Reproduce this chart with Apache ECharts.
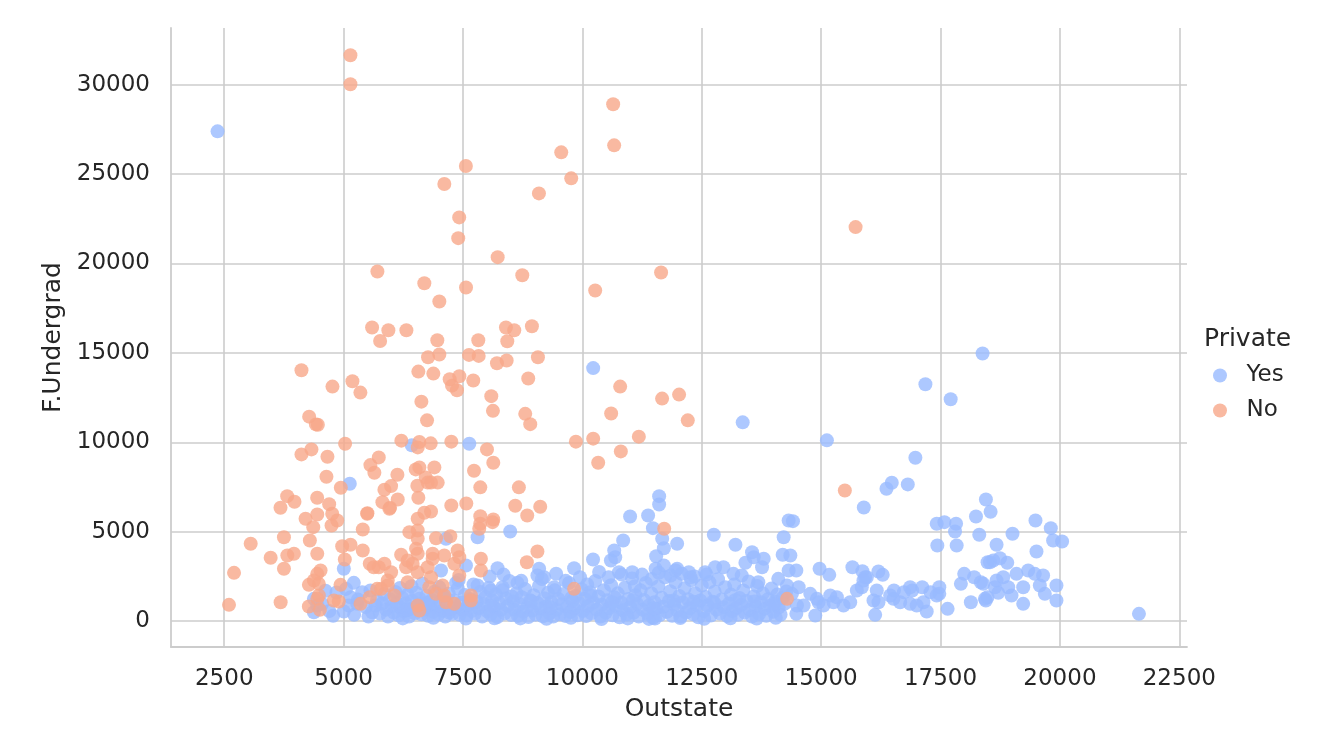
<!DOCTYPE html>
<html>
<head>
<meta charset="utf-8">
<script src="https://cdn.jsdelivr.net/npm/echarts@6.0.0/dist/echarts.min.js"></script>
<style>
  html, body { margin: 0; padding: 0; background: #ffffff; }
  #chart { width: 1318px; height: 750px; }
</style>
</head>
<body>
<div id="chart"></div>
<script>
// tick labels
var xTicks = [2500, 5000, 7500, 10000, 12500, 15000, 17500, 20000, 22500];
var yTicks = [0, 5000, 10000, 15000, 20000, 25000, 30000];

// Private = Yes : [Outstate, F.Undergrad]
var yesPoints = [
  [2360, 27394], [10226, 14149], [13357, 11116], [18380, 14963], [17183, 13244], [17712, 12404],
  [15120, 10108], [16973, 9139], [16479, 7739], [16368, 7403], [16814, 7644], [15893, 6356],
  [7632, 9923], [5129, 7683], [6427, 9828], [11607, 6989], [11607, 6524], [10999, 5852],
  [11376, 5908], [18450, 6804], [18548, 6115],
  [4377, 1243], [4377, 493], [4552, 963], [4448, 868], [5004, 2923], [5213, 2139], [5144, 1333],
  [5108, 868], [5004, 532], [5284, 963], [5389, 1613], [5562, 1708], [5597, 493], [5666, 868],
  [4620, 1700], [4700, 560], [4780, 300], [4850, 1600], [5050, 1800], [5220, 350], [5300, 1200],
  [5460, 780], [5520, 250],
  [7144, 4603], [7805, 4693], [8488, 5012], [7040, 2828], [7562, 3108], [7353, 2139], [7805, 1988],
  [8223, 2957], [9094, 2923], [9199, 2453], [9058, 2548], [9408, 1893], [9826, 2957], [8641, 2139],
  [8327, 1893], [8084, 1708],
  [11477, 5197], [11671, 4603], [11706, 4077], [11984, 4323], [10854, 4508], [10666, 3948],
  [10687, 3573], [10597, 3388], [10223, 3444], [11545, 3629], [11532, 2923], [11706, 3108],
  [11984, 2923], [10766, 2733], [11044, 2733], [12752, 4827], [13205, 4267], [13553, 3853],
  [13588, 3573], [13797, 3483], [13762, 3013], [13414, 3259], [14215, 4693], [14194, 3707],
  [14319, 5628], [12570, 2733], [12779, 3013], [12953, 3013], [13162, 2643], [13336, 2548],
  [13684, 2173], [14102, 2363], [12229, 2733], [12264, 2453], [11951, 2828], [11393, 123],
  [14409, 5589], [14355, 3668], [14319, 2828], [14480, 2828], [14967, 2923], [15170, 2587],
  [15655, 3013], [15864, 2789], [15921, 2453], [16199, 2772], [16289, 2587], [17420, 5443],
  [17581, 5533], [17825, 5443], [17803, 5012], [17838, 4228], [17433, 4228], [18242, 5852],
  [18311, 4827], [18485, 3293], [18604, 3388], [17995, 2643], [17926, 2083], [18204, 2453],
  [18344, 2173], [18482, 1333], [18448, 1148], [18135, 1053], [17648, 683], [17474, 1893],
  [14877, 308], [16131, 347], [17210, 532], [14480, 403], [17474, 1523], [16524, 1708],
  [16733, 1613], [16907, 1708], [17116, 1893], [17290, 1613], [15747, 1708], [15851, 1893],
  [15956, 2453], [15886, 2268], [16165, 1708], [16200, 1053], [14772, 1523], [14946, 1053],
  [15259, 1053], [15468, 868], [15608, 1053], [15190, 1428], [15329, 1333], [14529, 1893],
  [14284, 1988], [14388, 1523], [14493, 868], [14633, 868], [14911, 1243], [15050, 868],
  [16514, 1243], [16654, 1053], [16863, 963], [17001, 868], [17141, 1053], [17420, 1428],
  [16863, 1893], [16445, 1428], [16096, 1148],
  [19488, 5628], [19809, 5197], [19857, 4508], [20045, 4452], [19007, 4883], [18673, 4267],
  [19509, 3892], [18535, 3293], [18744, 3517], [18897, 3259], [19090, 2643], [19335, 2828],
  [19474, 2643], [19648, 2548], [18673, 2268], [18813, 2453], [18639, 1893], [18708, 1579],
  [18917, 1893], [18986, 1428], [19231, 1893], [19231, 963], [19579, 1988], [19684, 1523],
  [19927, 1988], [19927, 1148], [18429, 1243], [18395, 2083], [21655, 403],
  // dense band 5600 - 7500
  [5700, 1150], [5760, 420], [5810, 980], [5850, 1520], [5890, 640], [5930, 260], [5975, 1210],
  [6010, 820], [6050, 470], [6085, 1630], [6110, 1020], [6150, 330], [6190, 760], [6230, 1290],
  [6260, 540], [6300, 980], [6340, 1480], [6370, 260], [6410, 690], [6440, 1120], [6490, 440],
  [6520, 1590], [6545, 830], [6590, 1250], [6630, 380], [6660, 990], [6700, 640], [6735, 1420],
  [6770, 300], [6800, 880], [6845, 1180], [6880, 520], [6910, 1660], [6950, 760], [6990, 380],
  [7020, 1090], [7060, 580], [7090, 1370], [7130, 250], [7170, 880], [7200, 1540], [7240, 660],
  [7280, 410], [7310, 1150], [7350, 790], [7390, 1830], [7430, 350], [7460, 1020], [7500, 620],
  [6180, 1850], [6420, 1950], [6650, 2100], [7000, 1900], [7410, 2300], [6240, 150], [6880, 180],
  [6330, 620], [6760, 1020], [7210, 470],
  // dense band 7500 - 10000
  [7540, 1460], [7570, 310], [7610, 890], [7650, 1240], [7680, 560], [7720, 2050], [7750, 420],
  [7790, 1080], [7830, 710], [7860, 1620], [7900, 260], [7930, 950], [7970, 1340], [8010, 540],
  [8040, 1870], [8080, 380], [8110, 1150], [8150, 760], [8190, 1490], [8220, 230], [8260, 1010],
  [8290, 620], [8330, 1720], [8370, 430], [8400, 1260], [8440, 850], [8470, 2240], [8510, 340],
  [8550, 1090], [8580, 640], [8620, 1560], [8650, 290], [8690, 940], [8730, 1330], [8760, 520],
  [8800, 1790], [8840, 760], [8870, 230], [8910, 1160], [8950, 590], [8980, 1450], [9020, 360],
  [9060, 1010], [9090, 1960], [9130, 690], [9170, 270], [9200, 1280], [9240, 820], [9280, 1580],
  [9310, 440], [9350, 1060], [9390, 250], [9420, 1720], [9460, 630], [9500, 1230], [9530, 380],
  [9570, 940], [9610, 1520], [9640, 290], [9680, 800], [9720, 2130], [9750, 510], [9790, 1140],
  [9830, 700], [9860, 1410], [9900, 330], [9940, 990], [9980, 1780],
  [8060, 2500], [8350, 2600], [8720, 2250], [9150, 2350], [9450, 2650], [9650, 2250], [9950, 2450],
  [7560, 140], [8160, 160], [8700, 150], [9250, 130], [9760, 180], [7640, 1110], [8090, 840],
  [8520, 1380], [8930, 1110], [9330, 780], [9770, 1300],
  // dense band 10000 - 12500
  [10010, 560], [10050, 1250], [10080, 280], [10120, 840], [10160, 1610], [10190, 430],
  [10230, 1040], [10270, 2240], [10300, 640], [10340, 1380], [10380, 250], [10410, 920],
  [10450, 1730], [10490, 470], [10520, 1160], [10560, 720], [10600, 2010], [10630, 330],
  [10670, 1330], [10710, 860], [10740, 1550], [10780, 210], [10820, 1020], [10850, 600],
  [10890, 1870], [10930, 380], [10960, 1240], [11000, 780], [11040, 2380], [11070, 460],
  [11110, 1450], [11150, 950], [11180, 260], [11220, 1720], [11260, 640], [11290, 1180],
  [11330, 2130], [11370, 410], [11400, 880], [11440, 1560], [11480, 190], [11510, 1060],
  [11550, 680], [11590, 1930], [11620, 340], [11660, 1310], [11700, 800], [11730, 2450],
  [11770, 520], [11810, 1120], [11840, 1670], [11880, 300], [11920, 930], [11950, 2170],
  [11990, 590], [12030, 1400], [12060, 260], [12100, 1040], [12140, 1830], [12170, 470],
  [12210, 1220], [12250, 720], [12280, 2290], [12320, 380], [12360, 1550], [12400, 900],
  [12430, 210], [12470, 1150], [12500, 1990],
  [10100, 2050], [10350, 2750], [10550, 2450], [10820, 2600], [11100, 1950], [11250, 2600],
  [11450, 2350], [11600, 2700], [11850, 2550], [12080, 2650], [12350, 2500], [10400, 120],
  [10950, 150], [11520, 140], [12050, 170], [10180, 1420], [10620, 1050], [11060, 1170],
  [11490, 720], [11910, 1150], [12330, 1080],
  // dense band 12500 - 14300
  [12540, 560], [12580, 1340], [12620, 870], [12660, 2180], [12690, 310], [12730, 1080],
  [12770, 1640], [12810, 640], [12840, 2340], [12880, 420], [12920, 1210], [12960, 780],
  [12990, 1890], [13030, 280], [13070, 990], [13110, 1480], [13140, 560], [13180, 2050],
  [13220, 730], [13260, 350], [13290, 1290], [13330, 910], [13370, 1710], [13400, 470],
  [13440, 1120], [13480, 2210], [13510, 620], [13550, 260], [13590, 1380], [13630, 830],
  [13660, 1960], [13700, 400], [13740, 1050], [13780, 1550], [13810, 680], [13850, 300],
  [13890, 1230], [13930, 860], [13960, 1820], [14000, 520], [14040, 1100], [14080, 1480],
  [14110, 760], [14150, 350], [14190, 1290], [14230, 960], [14270, 1650],
  [12600, 2600], [12550, 130], [13100, 160], [13650, 140], [14050, 180], [12760, 1030],
  [13200, 1170], [13600, 1100], [14020, 930]
];

// Private = No : [Outstate, F.Undergrad]
var noPoints = [
  [5142, 31646], [5142, 30027], [7109, 24444], [7560, 25452], [7420, 22579], [7400, 21420],
  [5707, 19555], [6690, 18900], [7004, 17875], [7563, 18659], [5596, 16419], [5937, 16268],
  [5764, 15669], [6314, 16268], [10644, 28907], [10665, 26611], [9557, 26219], [9766, 24763],
  [9090, 23923], [8226, 20356], [8741, 19348], [10268, 18491], [11648, 19499], [8399, 16419],
  [8573, 16268], [8943, 16492], [7820, 15708], [8427, 15652], [15721, 22036],
  [4117, 14028], [4766, 13115], [5184, 13412], [5351, 12779], [4278, 11435], [4420, 11000],
  [4460, 10980], [5031, 9923], [4117, 9324], [4326, 9604], [4661, 9195], [4640, 8075],
  [4941, 7459], [3818, 6989], [3971, 6675], [3678, 6339], [4446, 6899], [4697, 6541],
  [6565, 13955], [6879, 13843], [6768, 14756], [7004, 14907], [6962, 15708], [7221, 13524],
  [7270, 13170], [7374, 12908], [7423, 13692], [6628, 12275], [6747, 11228], [6209, 10091],
  [6586, 10013], [6552, 9716], [6824, 9940], [7255, 10035], [5736, 9156], [5561, 8725],
  [5644, 8299], [6126, 8187], [6510, 8484], [6586, 8596], [6900, 8596], [6544, 7571],
  [5994, 7550], [5854, 7347], [6719, 8027], [6761, 7747], [6970, 7747], [6830, 7747],
  [6565, 6899], [6133, 6804], [5812, 6652], [5973, 6339], [5498, 6036], [7255, 6468],
  [6690, 6058], [6830, 6132],
  [7625, 14889], [7828, 14833], [8211, 14420], [8414, 14576], [9069, 14756], [7715, 13457],
  [8866, 13568], [8092, 12581], [8127, 11760], [8803, 11592], [8908, 11015], [10791, 13115],
  [11669, 12443], [12025, 12667], [10602, 11611], [12207, 11228], [11182, 10315], [10226, 10203],
  [9864, 10035], [10805, 9492], [10331, 8860], [8002, 9604], [8134, 8860], [7730, 8412],
  [7862, 7480], [8670, 7480], [7569, 6580], [8594, 6451], [9117, 6395], [8845, 5908],
  [7862, 5868], [8134, 5684], [15496, 7308], [11713, 5163], [14286, 1243],
  [4203, 5723], [4448, 5964], [4761, 6003], [4866, 5628], [4747, 5348], [4364, 5253],
  [5493, 6003], [5401, 5124], [3054, 4323], [3750, 4693], [4293, 4508], [3472, 3539],
  [3821, 3668], [3959, 3763], [4448, 3763], [3750, 2923], [2705, 2699], [2600, 907],
  [3681, 1053], [4970, 4189], [5144, 4267], [5025, 3444], [5401, 3948], [5547, 3203],
  [5631, 3013], [4517, 2828], [4448, 2643], [4377, 2268], [4481, 2083], [4272, 2027],
  [4481, 1428], [4448, 1243], [4272, 812], [4502, 627], [4935, 2027], [4795, 1148],
  [4899, 1092], [5547, 1333], [5353, 963], [5702, 1803], [5735, 3013],
  [5959, 6283], [6551, 5723], [7861, 5443], [7840, 5163], [8118, 5533], [6377, 4973],
  [6551, 5068], [6551, 4603], [6935, 4637], [7234, 4749], [6204, 3707], [6517, 4043],
  [6551, 3763], [6864, 3763], [7108, 3668], [7387, 3948], [7422, 3573], [5855, 3203],
  [5994, 2733], [6308, 3013], [6446, 3203], [6342, 3388], [6551, 2733], [6760, 3013],
  [6864, 3483], [5924, 2268], [5924, 1988], [5786, 1803], [6342, 2173], [6830, 2453],
  [6795, 1893], [7073, 1988], [6935, 1523], [6063, 1428], [7422, 2548], [7318, 3203],
  [7666, 1428], [7666, 1148], [7875, 3483], [7875, 2828], [6551, 868], [6586, 588],
  [7144, 1053], [7318, 963], [7108, 1428], [9058, 3892], [8837, 3293], [9826, 1803]
];

var textColor = '#262626';
var gridColor = '#cccccc';
var fontName = 'DejaVu Sans';

var chart = echarts.init(document.getElementById('chart'), null, { renderer: 'canvas' });

var option = {
  animation: false,
  backgroundColor: '#ffffff',
  textStyle: { fontFamily: fontName },
  title: {
    text: 'Private',
    left: 1204,
    top: 327,
    padding: 0,
    textStyle: { fontFamily: fontName, fontSize: 25, fontWeight: 'normal', color: textColor }
  },
  legend: {
    orient: 'vertical',
    left: 1213,
    top: 364,
    padding: 0,
    icon: 'circle',
    itemWidth: 43,
    itemHeight: 14,
    itemGap: 12,
    data: ['Yes', 'No'],
    textStyle: { fontFamily: fontName, fontSize: 23, color: textColor }
  },
  grid: {
    left: 171,
    top: 28,
    right: 131,
    bottom: 103
  },
  xAxis: {
    type: 'value',
    min: 1385,
    max: 22661,
    name: 'Outstate',
    nameLocation: 'middle',
    nameGap: 50,
    nameTextStyle: { fontFamily: fontName, fontSize: 25, color: textColor },
    axisLine: { show: true, onZero: false, lineStyle: { color: gridColor, width: 1.8 } },
    axisTick: { show: false, customValues: xTicks },
    axisLabel: {
      customValues: xTicks,
      formatter: function (v) { return String(v); },
      margin: 21,
      fontFamily: fontName,
      fontSize: 23,
      color: textColor
    },
    splitLine: { show: true, lineStyle: { color: gridColor, width: 1.6 } }
  },
  yAxis: {
    type: 'value',
    min: -1450,
    max: 33174,
    name: 'F.Undergrad',
    nameLocation: 'middle',
    nameGap: 94,
    nameTextStyle: { fontFamily: fontName, fontSize: 25, color: textColor },
    axisLine: { show: true, onZero: false, lineStyle: { color: gridColor, width: 1.8 } },
    axisTick: { show: false, customValues: yTicks },
    axisLabel: {
      customValues: yTicks,
      formatter: function (v) { return String(v); },
      margin: 21,
      fontFamily: fontName,
      fontSize: 23,
      color: textColor
    },
    splitLine: { show: true, lineStyle: { color: gridColor, width: 1.6 } }
  },
  series: [
    {
      name: 'Yes',
      type: 'scatter',
      symbol: 'circle',
      symbolSize: 14,
      data: yesPoints,
      itemStyle: { color: '#99baff', opacity: 0.8 }
    },
    {
      name: 'No',
      type: 'scatter',
      symbol: 'circle',
      symbolSize: 14,
      data: noPoints,
      itemStyle: { color: '#f7a889', opacity: 0.8 }
    }
  ]
};

chart.setOption(option);
</script>
</body>
</html>
